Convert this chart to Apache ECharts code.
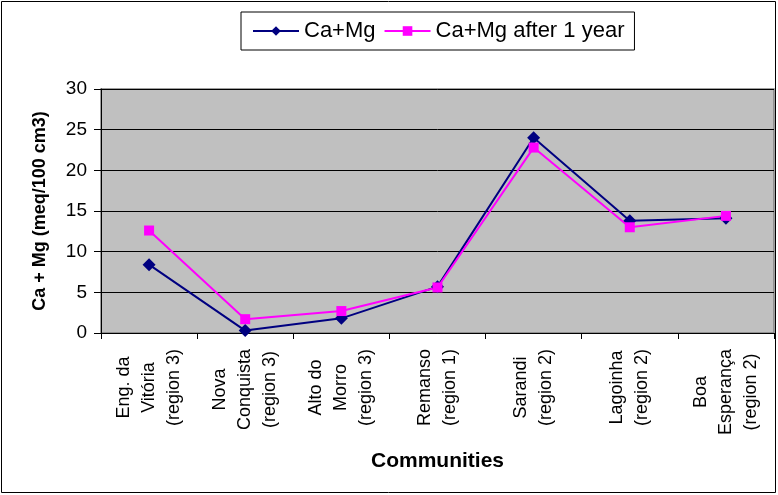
<!DOCTYPE html>
<html>
<head>
<meta charset="utf-8">
<script src="https://cdn.jsdelivr.net/npm/echarts@6/dist/echarts.min.js"></script>
<style>
  html, body { margin: 0; padding: 0; background: #fff; }
  #chart { width: 778px; height: 495px; }
</style>
</head>
<body>
<div id="chart"></div>
<script>
// Communities (one line per text row of the axis label)
const communities = [
  ['Eng. da', 'Vitória', '(region 3)'],
  ['Nova', 'Conquista', '(region 3)'],
  ['Alto do', 'Morro', '(region 3)'],
  ['Remanso', '(region 1)'],
  ['Sarandi', '(region 2)'],
  ['Lagoinha', '(region 2)'],
  ['Boa', 'Esperança', '(region 2)']
];
// Ca + Mg, meq/100 cm3
const caMg = [8.4, 0.3, 1.8, 5.7, 24.0, 13.8, 14.1];
const caMgAfterYear = [12.6, 1.7, 2.7, 5.6, 22.8, 13.0, 14.4];
const yTicks = [0, 5, 10, 15, 20, 25, 30];

const FONT = "'Liberation Sans', Arial, sans-serif";

const chart = echarts.init(document.getElementById('chart'), null, { renderer: 'canvas' });

chart.setOption({
  animation: false,
  backgroundColor: '#ffffff',
  textStyle: { fontFamily: FONT, color: '#000' },
  graphic: [{
    type: 'rect',
    shape: { x: 1.5, y: 1.5, width: 774, height: 491 },
    style: { fill: 'none', stroke: '#000', lineWidth: 1 },
    z: -1
  }],
  legend: {
    left: 241,
    top: 12,
    padding: [8, 10, 8, 11],
    itemGap: 8,
    itemWidth: 46,
    itemHeight: 12,
    borderColor: '#000',
    borderWidth: 1,
    textStyle: { fontFamily: FONT, fontSize: 22, color: '#000' },
    data: ['Ca+Mg', 'Ca+Mg after 1 year']
  },
  grid: {
    left: 101, right: 4, top: 89, bottom: 162,
    show: true,
    backgroundColor: '#c0c0c0',
    borderColor: '#808080',
    borderWidth: 1.5
  },
  xAxis: {
    type: 'category',
    data: communities.map(c => c.join('\n')),
    boundaryGap: true,
    name: 'Communities',
    nameLocation: 'middle',
    nameGap: 118,
    nameTextStyle: { fontFamily: FONT, fontSize: 21, fontWeight: 'bold', color: '#000' },
    axisLine: { lineStyle: { color: '#000', width: 1 } },
    axisTick: { show: true, length: 6, lineStyle: { color: '#000' } },
    axisLabel: {
      interval: 0,
      rotate: 90,
      margin: 16,
      formatter: v => v.split('\n').map(s => '{c|' + s + '}').join('\n'),
      rich: {
        c: { align: 'center', fontFamily: FONT, fontSize: 18, lineHeight: 25, color: '#000' }
      }
    }
  },
  yAxis: {
    type: 'value',
    min: yTicks[0],
    max: yTicks[yTicks.length - 1],
    interval: 5,
    name: 'Ca + Mg (meq/100 cm3)',
    nameLocation: 'middle',
    nameGap: 52,
    nameTextStyle: { fontFamily: FONT, fontSize: 18, fontWeight: 'bold', color: '#000' },
    axisLine: { show: true, lineStyle: { color: '#000', width: 1 } },
    axisTick: { show: true, length: 7, lineStyle: { color: '#000' } },
    axisLabel: { margin: 14, fontFamily: FONT, fontSize: 19, color: '#000' },
    splitLine: { show: true, lineStyle: { color: '#000', width: 1 } }
  },
  series: [
    {
      name: 'Ca+Mg',
      type: 'line',
      data: caMg,
      symbol: 'diamond',
      symbolSize: 13,
      itemStyle: { color: '#000080' },
      lineStyle: { color: '#000080', width: 2 }
    },
    {
      name: 'Ca+Mg after 1 year',
      type: 'line',
      data: caMgAfterYear,
      symbol: 'rect',
      symbolSize: 10,
      itemStyle: { color: '#ff00ff' },
      lineStyle: { color: '#ff00ff', width: 2 }
    }
  ]
});
</script>
</body>
</html>
